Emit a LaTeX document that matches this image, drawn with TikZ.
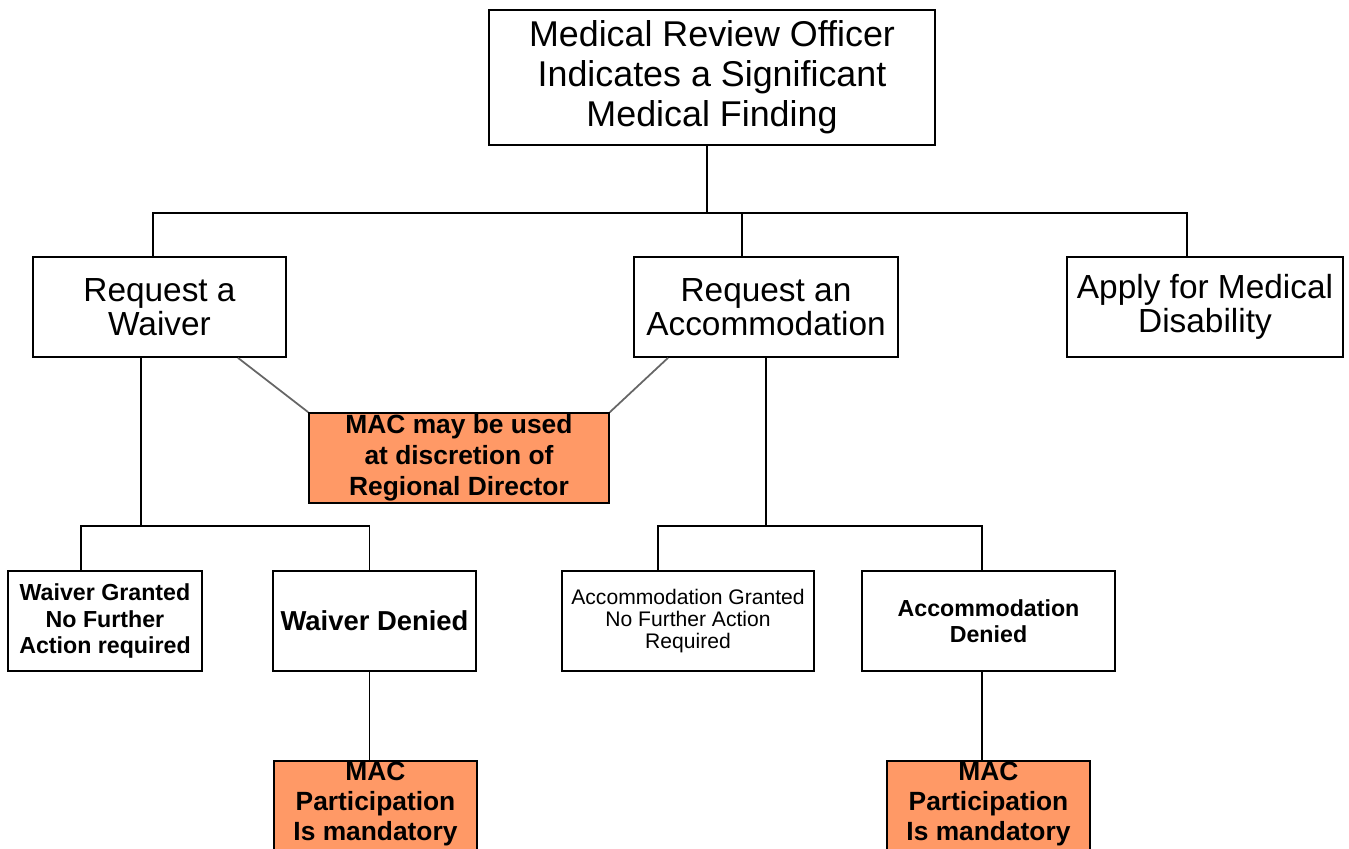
\documentclass[tikz,border=0pt]{standalone}
\usepackage{fontspec}
\setmainfont{Liberation Sans}
\usepackage{tikz}
\usetikzlibrary{positioning}
\definecolor{macorange}{HTML}{FF9966}
\tikzset{
  box/.style={draw, line width=1pt, align=center, inner sep=0pt, fill=white},
  macbox/.style={box, fill=macorange, font=\bfseries\fontsize{15}{17}\selectfont},
  link/.style={line width=1pt},
  side/.style={line width=1pt, black!60}
}

\begin{document}
\begin{tikzpicture}

    \useasboundingbox (0,0) rectangle (26.98,-16.96);

    \node[box, minimum width=8.92cm, minimum height=2.7cm, font=\fontsize{20.4}{22.7}\selectfont] (top) at (14.24,-1.55) {Medical Review Officer\\Indicates a Significant\\Medical Finding};

    \node[box, minimum width=5.06cm, minimum height=2cm, font=\fontsize{19}{19.4}\selectfont] (waiver) at (3.19,-6.14) {Request a\\Waiver};
    \node[box, minimum width=5.28cm, minimum height=2cm, font=\fontsize{19}{19.4}\selectfont] (accom) at (15.32,-6.14) {Request an\\Accommodation};
    \node[box, minimum width=5.52cm, minimum height=2cm, font=\fontsize{19}{19.4}\selectfont] (disab) at (24.1,-6.14) {Apply for Medical\\Disability};

    \node[macbox, minimum width=6cm, minimum height=1.8cm, font=\bfseries\fontsize{15}{17.6}\selectfont] (macmid) at (9.18,-9.16) {MAC may be used\\at discretion of\\Regional Director};

    \node[box, minimum width=3.88cm, minimum height=2cm, font=\bfseries\fontsize{13.2}{15.3}\selectfont] (wgrant) at (2.1,-12.42) {Waiver Granted\\No Further\\Action required};
    \node[box, minimum width=4.06cm, minimum height=2cm, font=\bfseries\fontsize{15.6}{17}\selectfont] (wdeny) at (7.49,-12.42) {Waiver Denied};
    \node[box, minimum width=5.04cm, minimum height=2cm, font=\fontsize{12}{12.5}\selectfont] (agrant) at (13.76,-12.42) {Accommodation Granted\\No Further Action\\Required};
    \node[box, minimum width=5.06cm, minimum height=2cm, font=\bfseries\fontsize{13.2}{14.7}\selectfont] (adeny) at (19.77,-12.42) {Accommodation\\Denied};

    \node[macbox, minimum width=4.06cm, minimum height=1.9cm, text depth=0.3cm] (macl) at (7.51,-16.17) {MAC\\Participation\\Is mandatory};
    \node[macbox, minimum width=4.06cm, minimum height=1.9cm, text depth=0.3cm] (macr) at (19.77,-16.17) {MAC\\Participation\\Is mandatory};

    % top level
    \draw[link] ([xshift=-1mm]top.south) -- ++(0,-1.34) coordinate (bus);
    \draw[link] ([xshift=-1.3mm]waiver.north) |- (bus) -| ([xshift=-3.6mm]disab.north);
    \draw[link] ([xshift=-4.8mm]accom.north) -- ([xshift=-4.8mm]accom.north |- bus);

    % waiver branch
    \draw[link] ([xshift=-3.7mm]waiver.south) -- ++(0,-3.36) coordinate (wbus);
    \draw[link] ([xshift=-4.8mm]wgrant.north) |- (wbus) -| ([xshift=-1mm]wdeny.north);
    \draw[link] ([xshift=-1mm]wdeny.south) -- ([xshift=-1mm]wdeny.south |- macl.north);

    % accommodation branch
    \draw[link] (accom.south) -- ++(0,-3.36) coordinate (abus);
    \draw[link] ([xshift=-6mm]agrant.north) |- (abus) -| ([xshift=-1.3mm]adeny.north);
    \draw[link] ([xshift=-1.3mm]adeny.south) -- ([xshift=-1.3mm]adeny.south |- macr.north);

    % MAC discretion
    \draw[side] ([xshift=15.7mm]waiver.south) -- (macmid.north west);
    \draw[side] ([xshift=-19.6mm]accom.south) -- (macmid.north east);

\end{tikzpicture}
\end{document}
